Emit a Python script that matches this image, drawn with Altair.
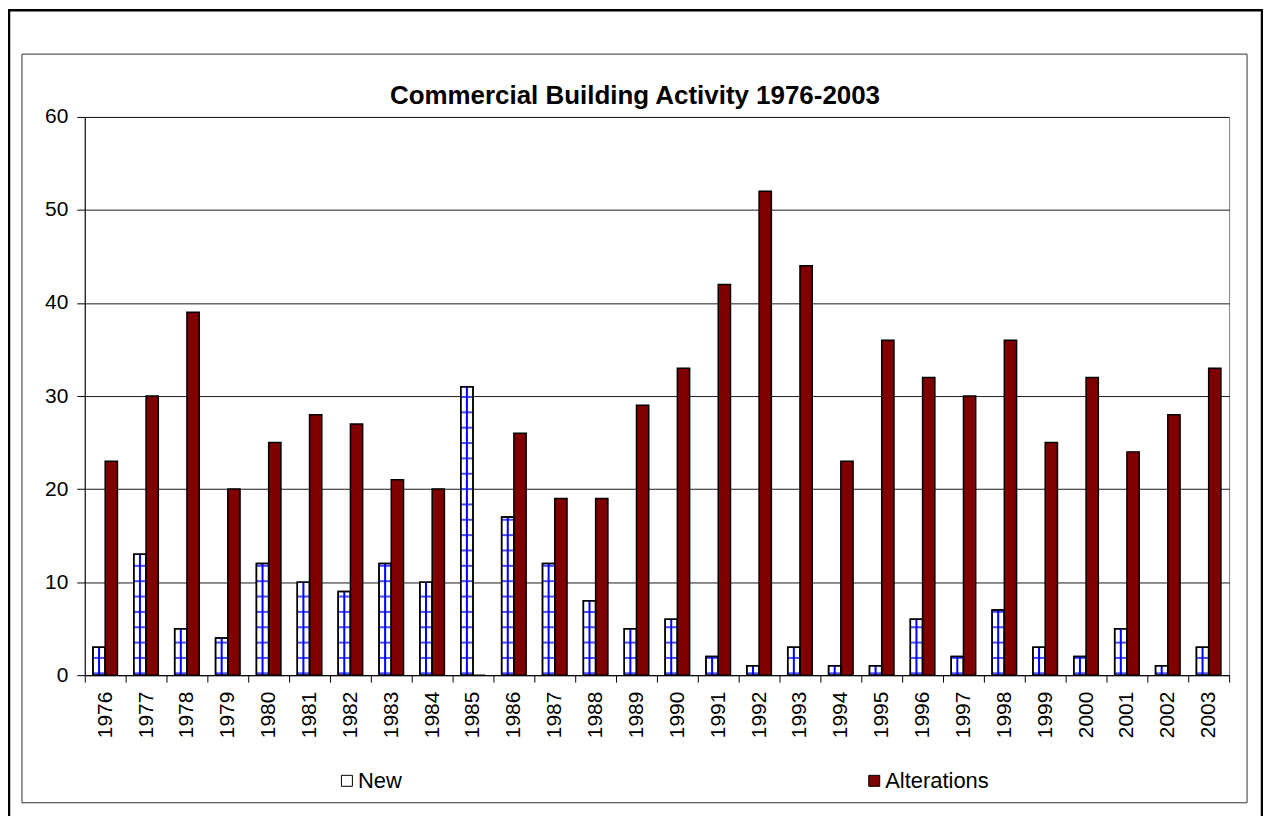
import altair as alt
import pandas as pd

years = ["1976", "1977", "1978", "1979", "1980", "1981", "1982", "1983", "1984", "1985",
         "1986", "1987", "1988", "1989", "1990", "1991", "1992", "1993", "1994", "1995",
         "1996", "1997", "1998", "1999", "2000", "2001", "2002", "2003"]
new_values = [3, 13, 5, 4, 12, 10, 9, 12, 10, 31, 17, 12, 8, 5, 6, 2, 1, 3, 1, 1,
              6, 2, 7, 3, 2, 5, 1, 3]
alteration_values = [23, 30, 39, 20, 25, 28, 27, 21, 20, 0, 26, 19, 19, 29, 33, 42, 52, 44, 23, 36,
                     32, 30, 36, 25, 32, 24, 28, 33]
series_names = ["New", "Alterations"]
y_ticks = [0, 10, 20, 30, 40, 50, 60]
title_text = "Commercial Building Activity 1976-2003"

rows = []
for i, yr in enumerate(years):
    rows.append({"Year": yr, "Series": "New", "Value": new_values[i]})
    rows.append({"Year": yr, "Series": "Alterations", "Value": alteration_values[i]})
df = pd.DataFrame(rows)

FONT = "Liberation Sans"
W, H = 1148, 560

x_axis = alt.Axis(title=None, labelAngle=270, labelFontSize=21, labelFont=FONT, labelColor="#000",
                  tickBand="extent", tickSize=7, tickColor="#000", domainColor="#000",
                  labelPadding=9, grid=False)
x_scale = alt.Scale(paddingInner=0, paddingOuter=0)
y_axis = alt.Axis(values=y_ticks, title=None, labelFontSize=21, labelFont=FONT, labelColor="#000",
                  tickSize=8, tickColor="#000", domainColor="#000", gridColor="#1a1a1a",
                  grid=True, labelPadding=9, format="d")
y_scale = alt.Scale(domain=[0, 60], nice=False)
off_scale = alt.Scale(domain=series_names, paddingInner=0, paddingOuter=0.667)


def xe():
    return alt.X("Year:N", sort=years, scale=x_scale, axis=x_axis)


def oe():
    return alt.XOffset("Series:N", sort=series_names, scale=off_scale)


def ye(field="Value:Q"):
    return alt.Y(field, scale=y_scale, axis=y_axis)


one = alt.Data(values=[{"title": title_text}])
outer = alt.Chart(one).mark_rect(fill="white", fillOpacity=0, stroke="#000", strokeWidth=2.5).encode(
    x=alt.value(-76), x2=alt.value(1181), y=alt.value(-107), y2=alt.value(720))
inner = alt.Chart(one).mark_rect(fill="white", fillOpacity=0, stroke="#333", strokeWidth=1).encode(
    x=alt.value(-63), x2=alt.value(1166), y=alt.value(-63), y2=alt.value(688))
title = alt.Chart(one).mark_text(font=FONT, fontSize=26, fontWeight="bold", color="#000",
                                 align="center", baseline="alphabetic").encode(
    text="title:N", x=alt.value(552), y=alt.value(-13))

bars = alt.Chart(df).mark_bar(stroke="#000", strokeWidth=1.5).encode(
    x=xe(), xOffset=oe(), y=ye(),
    color=alt.Color("Series:N", sort=series_names,
                    scale=alt.Scale(domain=series_names, range=["#ffffff", "#800000"]),
                    legend=alt.Legend(title=None, orient="none", legendX=252, legendY=655,
                                      direction="horizontal", columnPadding=462,
                                      symbolType="square", symbolSize=121,
                                      symbolStrokeColor="#000", symbolStrokeWidth=1,
                                      labelFontSize=22, labelFont=FONT, labelColor="#000",
                                      labelOffset=0, padding=0, symbolOffset=0)))

pattern_h = alt.Chart(df).transform_filter("datum.Series == 'New'").transform_calculate(
    level="sequence(0.2, datum.Value, 1.65)").transform_flatten(["level"]).mark_tick(
    orient="horizontal", size=12, thickness=2, color="#0000ff").encode(
    x=xe(), xOffset=oe(), y=ye("level:Q"))

pattern_v = alt.Chart(df).transform_filter("datum.Series == 'New'").mark_bar(
    width=2, color="#0000ff").encode(x=xe(), xOffset=oe(), y=ye())

outline = alt.Chart(df).transform_filter("datum.Series == 'New'").mark_bar(
    fill="white", fillOpacity=0, stroke="#000", strokeWidth=1.5).encode(
    x=xe(), xOffset=oe(), y=ye())

chart = alt.layer(outer, inner, title, bars, pattern_h, pattern_v, outline).properties(
    width=W, height=H,
    padding={"left": 77, "top": 108, "right": 34, "bottom": 140},
    autosize=alt.AutoSizeParams(type="none"),
    background="white",
).configure_view(stroke="#808080", strokeWidth=1)

chart.save("out.html", embed_options={"renderer": "svg", "actions": False})
